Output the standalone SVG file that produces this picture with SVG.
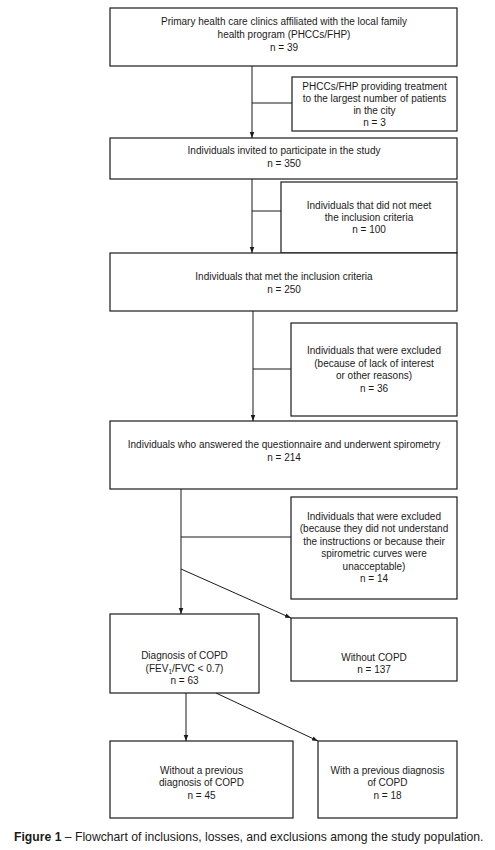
<svg xmlns="http://www.w3.org/2000/svg" width="495" height="850" viewBox="0 0 495 850">
<style>
.b{fill:#fff;stroke:#1a1a1a;stroke-width:1.2}
.t{font-family:"Liberation Sans",Arial,sans-serif;font-size:10px;fill:#1a1a1a;text-anchor:middle}
.c{fill:none;stroke:#1a1a1a;stroke-width:1}
.cap{font-family:"Liberation Sans",Arial,sans-serif;font-size:12.2px;fill:#1a1a1a}
</style>
<defs>
<marker id="ah" viewBox="0 0 8 8" refX="8" refY="4" markerWidth="6" markerHeight="6" orient="auto" markerUnits="userSpaceOnUse">
<path d="M0,1 L8,4 L0,7 z" fill="#1a1a1a"/>
</marker>
</defs>
<rect width="495" height="850" fill="#fff"/>
<g id="connectors">
<line class="c" x1="252" y1="66" x2="252" y2="138" marker-end="url(#ah)"/>
<line class="c" x1="252" y1="103" x2="292" y2="103"/>
<line class="c" x1="252" y1="179" x2="252" y2="253" marker-end="url(#ah)"/>
<line class="c" x1="252" y1="211" x2="281" y2="211"/>
<line class="c" x1="253" y1="311" x2="253" y2="421" marker-end="url(#ah)"/>
<line class="c" x1="253" y1="369" x2="291" y2="369"/>
<line class="c" x1="181" y1="489" x2="181" y2="614" marker-end="url(#ah)"/>
<line class="c" x1="181" y1="537" x2="291" y2="537"/>
<line class="c" x1="181" y1="569" x2="291" y2="618" marker-end="url(#ah)"/>
<line class="c" x1="186" y1="693" x2="186" y2="741" marker-end="url(#ah)"/>
<line class="c" x1="216" y1="693" x2="318" y2="741" marker-end="url(#ah)"/>
</g>
<g id="n1"><rect class="b" x="110" y="8" width="347" height="58"/>
<text class="t" x="284" y="24.5">Primary health care clinics affiliated with the local family</text>
<text class="t" x="284" y="37.5">health program (PHCCs/FHP)</text>
<text class="t" x="284" y="50.5">n = 39</text></g>
<g id="n1x"><rect class="b" x="292" y="77" width="165" height="54"/>
<text class="t" x="374.5" y="90">PHCCs/FHP providing treatment</text>
<text class="t" x="374.5" y="102">to the largest number of patients</text>
<text class="t" x="374.5" y="114">in the city</text>
<text class="t" x="374.5" y="126">n = 3</text></g>
<g id="n2"><rect class="b" x="110" y="138" width="347" height="41"/>
<text class="t" x="284" y="154">Individuals invited to participate in the study</text>
<text class="t" x="284" y="167">n = 350</text></g>
<g id="n2x"><rect class="b" x="281" y="182" width="176" height="71"/>
<text class="t" x="369" y="208.5">Individuals that did not meet</text>
<text class="t" x="369" y="220.5">the inclusion criteria</text>
<text class="t" x="369" y="232.5">n = 100</text></g>
<g id="n3"><rect class="b" x="110" y="253" width="347" height="58"/>
<text class="t" x="284" y="279.5">Individuals that met the inclusion criteria</text>
<text class="t" x="284" y="292.5">n = 250</text></g>
<g id="n3x"><rect class="b" x="291" y="323" width="166" height="93"/>
<text class="t" x="374" y="354">Individuals that were excluded</text>
<text class="t" x="374" y="366.5">(because of lack of interest</text>
<text class="t" x="374" y="379">or other reasons)</text>
<text class="t" x="374" y="391.5">n = 36</text></g>
<g id="n4"><rect class="b" x="110" y="421" width="347" height="68"/>
<text class="t" x="284" y="448">Individuals who answered the questionnaire and underwent spirometry</text>
<text class="t" x="284" y="461">n = 214</text></g>
<g id="n4x"><rect class="b" x="291" y="497" width="166" height="102"/>
<text class="t" x="374" y="519.5">Individuals that were excluded</text>
<text class="t" x="374" y="532">(because they did not understand</text>
<text class="t" x="374" y="544.5">the instructions or because their</text>
<text class="t" x="374" y="557">spirometric curves were</text>
<text class="t" x="374" y="569.5">unacceptable)</text>
<text class="t" x="374" y="582">n = 14</text></g>
<g id="n5"><rect class="b" x="110" y="614" width="149" height="79"/>
<text class="t" x="184.5" y="659">Diagnosis of COPD</text>
<text class="t" x="184.5" y="671.5">(FEV<tspan font-size="6.5" dy="2">1</tspan><tspan dy="-2">/FVC &lt; 0.7)</tspan></text>
<text class="t" x="184.5" y="684">n = 63</text></g>
<g id="n6"><rect class="b" x="291" y="618" width="166" height="63"/>
<text class="t" x="374" y="660.5">Without COPD</text>
<text class="t" x="374" y="672.5">n = 137</text></g>
<g id="n7"><rect class="b" x="110" y="741" width="183" height="77"/>
<text class="t" x="201.5" y="773.5">Without a previous</text>
<text class="t" x="201.5" y="786">diagnosis of COPD</text>
<text class="t" x="201.5" y="798.5">n = 45</text></g>
<g id="n8"><rect class="b" x="318" y="741" width="139" height="77"/>
<text class="t" x="387.5" y="773.5">With a previous diagnosis</text>
<text class="t" x="387.5" y="786">of COPD</text>
<text class="t" x="387.5" y="798.5">n = 18</text></g>
<text class="cap" x="14" y="841"><tspan font-weight="bold">Figure 1</tspan> – Flowchart of inclusions, losses, and exclusions among the study population.</text>
</svg>
